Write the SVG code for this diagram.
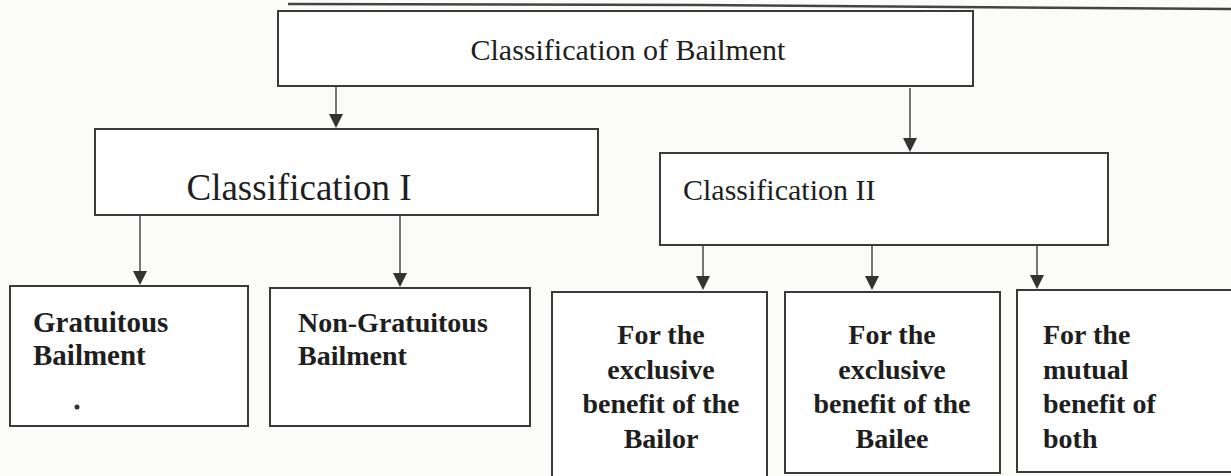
<svg xmlns="http://www.w3.org/2000/svg" width="1231" height="476" viewBox="0 0 1231 476">
<style>
.box{fill:#ffffff;stroke:#3a3a3a;stroke-width:2}
.t{font-family:"Liberation Serif","Times New Roman",serif;fill:#1e1e1e}
.b{font-weight:bold}
.c{text-anchor:middle}
.edge{stroke:#555;stroke-width:1.6;fill:none}
.ah{fill:#333}
</style>
<rect width="1231" height="476" fill="#fbfbfa"/>
<path d="M288,4 L700,5 L1231,9" stroke="#444" stroke-width="2.5" fill="none"/>
<g id="connectors">
<path class="edge" d="M336,86 V120"/>
<path class="edge" d="M910,88 V144"/>
<path class="edge" d="M140,215 V277"/>
<path class="edge" d="M400,215 V279"/>
<path class="edge" d="M703,245 V282"/>
<path class="edge" d="M872,245 V282"/>
<path class="edge" d="M1037,245 V281"/>
<path class="ah" d="M329,114 L343,114 L336,128 Z"/>
<path class="ah" d="M903,138 L917,138 L910,152 Z"/>
<path class="ah" d="M133,271 L147,271 L140,285 Z"/>
<path class="ah" d="M393,273 L407,273 L400,287 Z"/>
<path class="ah" d="M696,276 L710,276 L703,290 Z"/>
<path class="ah" d="M865,276 L879,276 L872,290 Z"/>
<path class="ah" d="M1030,275 L1044,275 L1037,289 Z"/>
</g>
<g id="root">
<rect class="box" x="278" y="11" width="695" height="75"/>
<text class="t c" x="628" y="60" font-size="30" font-family="Liberation Serif, serif">Classification of Bailment</text>
</g>
<g id="class1">
<rect class="box" x="95" y="129" width="503" height="86"/>
<text class="t c" x="299" y="200" font-size="37" font-family="Liberation Serif, serif">Classification I</text>
</g>
<g id="class2">
<rect class="box" x="660" y="153" width="448" height="92"/>
<text class="t" x="683" y="200" font-size="30" font-family="Liberation Serif, serif">Classification II</text>
</g>
<g id="gratuitous">
<rect class="box" x="10" y="286" width="238" height="140"/>
<text class="t b" x="33" y="332" font-size="29" fill="#333">Gratuitous</text>
<text class="t b" x="33" y="365" font-size="29" fill="#333">Bailment</text>
<circle cx="77" cy="407" r="2.5" fill="#333"/>
</g>
<g id="nongratuitous">
<rect class="box" x="270" y="288" width="260" height="138"/>
<text class="t b" x="298" y="332" font-size="28">Non-Gratuitous</text>
<text class="t b" x="298" y="365" font-size="28">Bailment</text>
</g>
<g id="bailor">
<rect class="box" x="552" y="292" width="215" height="190"/>
<text class="t b c" font-size="28"><tspan x="661" y="344">For the</tspan><tspan x="661" y="379">exclusive</tspan><tspan x="661" y="413">benefit of the</tspan><tspan x="661" y="448">Bailor</tspan></text>
</g>
<g id="bailee">
<rect class="box" x="785" y="292" width="215" height="181"/>
<text class="t b c" font-size="28"><tspan x="892" y="344">For the</tspan><tspan x="892" y="379">exclusive</tspan><tspan x="892" y="413">benefit of the</tspan><tspan x="892" y="448">Bailee</tspan></text>
</g>
<g id="mutual">
<rect class="box" x="1017" y="290" width="220" height="182"/>
<text class="t b" font-size="28"><tspan x="1043" y="344">For the</tspan><tspan x="1043" y="379">mutual</tspan><tspan x="1043" y="413">benefit of</tspan><tspan x="1043" y="448">both</tspan></text>
</g>
</svg>
